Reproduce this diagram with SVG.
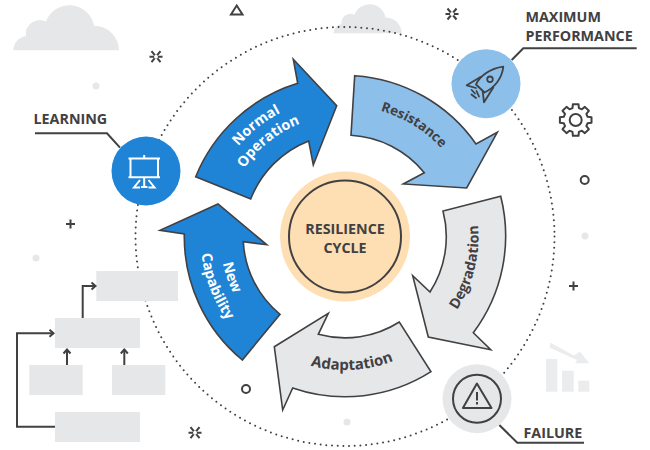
<svg xmlns="http://www.w3.org/2000/svg" width="650" height="450" viewBox="0 0 650 450">
<style>
text{font-family:"Open Sans","Liberation Sans",sans-serif;font-weight:700;fill:#414042}
.arrow{stroke:#414042;stroke-width:1.6;stroke-linejoin:miter}
.blue{fill:#1f83d6}.light{fill:#8cbfea}.grey{fill:#e6e7e8}
.lbl{font-size:14.300px}
.cap{font-size:14.300px}
.ln{fill:none;stroke:#414042;stroke-width:2}
.wl{fill:none;stroke:#fff;stroke-width:2}
.bg{fill:#e6e7e8}
.pale{fill:#ebeced}
.thin{fill:none;stroke:#414042;stroke-width:1.8;stroke-linejoin:round;stroke-linecap:round}
</style>
<defs>
<g id="ast"><path class="ln" d="M-6.500,0H6.500M-4.500,-5.500L4.500,5.500M4.500,-5.500L-4.500,5.500"/><circle r="2" fill="#fff"/></g>
<path id="cloud" d="M13.300,50.300A15,15 0 0 1 26,36A14,14 0 0 1 46,21.500A25,25 0 0 1 94,25.700A25,25 0 0 1 119,50.300Z"/>
<marker id="chev" markerWidth="8" markerHeight="10" refX="6" refY="5" orient="auto" markerUnits="userSpaceOnUse"><path d="M2,1.500L6,5L2,8.500" fill="none" stroke="#414042" stroke-width="2"/></marker>
<path id="t1" d="M219.700,174.600A140,140 0 0 1 312.400,100.900"/>
<path id="t2" d="M231.300,192.700A122,122 0 0 1 326.600,116.500"/>
<path id="t3" d="M348.400,106A131,131 0 0 1 460.100,174.500"/>
<path id="t4" d="M441,329.800A133.500,133.500 0 0 0 473.300,200.200"/>
<path id="t5" d="M285,355.800A133,133 0 0 0 417.800,348.300"/>
<path id="t6" d="M220,236.100A125,125 0 0 0 248.600,316.600"/>
<path id="t7" d="M200.800,226.900A144.500,144.500 0 0 0 244.600,340.900"/>
</defs>

<g id="decor">
<use href="#cloud" class="bg"/>
<use href="#cloud" class="bg" transform="translate(324.700,0.800) scale(.647)"/>
<path class="ln" d="M236.700,5.500L242.500,14.500H231Z"/>
<use href="#ast" x="156" y="56.700"/>
<use href="#ast" x="452" y="14"/>
<use href="#ast" x="195" y="432.700"/>
<circle cx="96" cy="86" r="3.500" class="bg"/>
<circle cx="36" cy="258" r="3.500" class="bg"/>
<circle cx="585" cy="236" r="3.500" class="bg"/>
<circle cx="347" cy="422" r="3.500" class="bg"/>
<circle cx="584.700" cy="180" r="4" class="ln"/>
<circle cx="246" cy="389" r="4" class="ln"/>
<path class="ln" d="M66,224H75M70.500,219.500V228.500M569,286H578M573.500,281.500V290.500"/>
<g transform="translate(575.700,120)"><path class="ln" stroke-linejoin="round" d="M-3.200,-11.900L-2.800,-15.800L2.800,-15.800L3.200,-11.900L6.150,-10.680L9.190,-13.150L13.150,-9.190L10.680,-6.150L11.900,-3.200L15.800,-2.800L15.800,2.800L11.900,3.200L10.680,6.150L13.150,9.190L9.190,13.150L6.150,10.680L3.200,11.900L2.800,15.800L-2.800,15.800L-3.200,11.900L-6.150,10.680L-9.190,13.150L-13.150,9.190L-10.680,6.150L-11.900,3.200L-15.800,2.800L-15.800,-2.800L-11.900,-3.200L-10.680,-6.150L-13.150,-9.190L-9.190,-13.150L-6.150,-10.680Z"/><circle r="6" class="ln"/></g>
<g id="chart" class="pale"><rect x="546" y="359" width="11.300" height="32.700"/><rect x="562" y="370.700" width="11.700" height="21"/><rect x="578.300" y="380.700" width="11" height="11"/><path d="M550.500,342.800L574,355.500L580,351.700L589.300,363.300H575L577,360L549.500,347.500Z"/></g>
</g>

<g id="ring"><circle cx="345" cy="236.500" r="209.500" fill="none" stroke="#414042" stroke-width="2" stroke-linecap="round" stroke-dasharray="0 5.700"/></g>

<g id="flowchart-boxes">
<rect id="box1" class="bg" x="96.300" y="271" width="81.700" height="30"/>
<rect id="box2" class="bg" x="55" y="318" width="85" height="30"/>
<rect id="box3" class="bg" x="29.300" y="365" width="53.400" height="30"/>
<rect id="box4" class="bg" x="112" y="365" width="53.300" height="30"/>
<rect id="box5" class="bg" x="55" y="412" width="85" height="30"/>
</g>
<g id="connectors">
<path class="ln" marker-end="url(#chev)" d="M55,426.700H17V333.300H53.500"/>
<path class="ln" marker-end="url(#chev)" d="M82.700,318V286H95.500"/>
<path class="ln" marker-end="url(#chev)" d="M67,365V349.500"/>
<path class="ln" marker-end="url(#chev)" d="M124.300,365V349.500"/>
<path class="ln" d="M511.700,60L523.300,48.300H636.700"/>
<path class="ln" d="M35,133.300H107L120,147.700"/>
<path class="ln" d="M499.300,425L517.300,442.700H584"/>
</g>

<g id="normal-operation">
<path class="arrow blue" d="M195.700,176.700A161,161 0 0 1 297.700,83.300L293.300,59.300L336.700,105.700L313.300,165L308.700,141A102,102 0 0 0 250.700,199Z"/>
<text class="lbl" style="fill:#fff"><textPath href="#t1" startOffset="50%" text-anchor="middle">Normal</textPath></text>
<text class="lbl" style="fill:#fff"><textPath href="#t2" startOffset="50%" text-anchor="middle">Operation</textPath></text>
</g>
<g id="resistance">
<path class="arrow light" d="M354.700,75.700A161,161 0 0 1 476,144L497.300,132.300L466.700,188L403.300,184L424.300,172.700A102,102 0 0 0 351,135.300Z"/>
<text class="lbl" style="font-size:13.500px"><textPath href="#t3" startOffset="50%" text-anchor="middle">Resistance</textPath></text>
</g>
<g id="degradation">
<path class="arrow grey" d="M500.700,196.300A161,161 0 0 1 473.300,332.700L490.700,349.700L428.300,337L412.700,275.700L430,292A102,102 0 0 0 443,211Z"/>
<text class="lbl"><textPath href="#t4" startOffset="50%" text-anchor="middle">Degradation</textPath></text>
</g>
<g id="adaptation">
<path class="arrow grey" d="M431,371.700A160,160 0 0 1 292.700,388L282.700,410L274.300,346.700L328.300,313.300L318.300,334.300A101,101 0 0 0 399.300,322Z"/>
<text class="lbl" style="font-size:15px"><textPath href="#t5" startOffset="50%" text-anchor="middle">Adaptation</textPath></text>
</g>
<g id="new-capability">
<path class="arrow blue" d="M242.300,360A160,160 0 0 1 184.300,234L160,230.300L218,204L266.700,244.700L243.300,241.700A101,101 0 0 0 280,314.300Z"/>
<text class="lbl" style="fill:#fff"><textPath href="#t6" startOffset="50%" text-anchor="middle">New</textPath></text>
<text class="lbl" style="fill:#fff"><textPath href="#t7" startOffset="50%" text-anchor="middle">Capability</textPath></text>
</g>

<g id="center">
<circle cx="345" cy="236.500" r="65" fill="#fedfb3"/>
<circle cx="345" cy="236.500" r="56" fill="none" stroke="#414042" stroke-width="2"/>
<text class="cap" x="345" y="234.300" text-anchor="middle">RESILIENCE</text>
<text class="cap" x="345" y="253.300" text-anchor="middle">CYCLE</text>
</g>

<g id="maximum-performance">
<circle cx="486" cy="83.700" r="34.500" fill="#8cbfea"/>
<path class="thin" d="M476,84.500C480,76 490,68.500 503.300,66.700C502,79 494,88 484.500,92.500Z"/>
<path class="thin" d="M480.500,77L466.700,85.300L476,88M493.300,87.500L484,102.300L482.700,91.500"/>
<circle cx="490" cy="79.300" r="2.800" class="thin"/>
<path class="thin" d="M471.700,90L475,93.500M471.500,94.500L476,98M476.500,91L479,96.500"/>
<text class="cap" x="525.500" y="22">MAXIMUM</text>
<text class="cap" x="525.500" y="41">PERFORMANCE</text>
</g>
<g id="learning">
<circle cx="146" cy="171" r="34.500" fill="#1f83d6"/>
<path class="wl" d="M128.500,158.500H160M130.500,158.500V177.300M158,158.500V177.300M128.500,177.300H160M144.200,155V158.500M144.200,177.300V187M141,187H147.500"/>
<path class="wl" d="M140,180L134,187.500H140M148.500,180L154.500,187.500H148.500"/>
<text class="cap" x="33.500" y="124">LEARNING</text>
</g>
<g id="failure">
<circle cx="477" cy="398.700" r="34.500" fill="#e6e7e8"/>
<circle cx="477" cy="398.700" r="24" class="ln"/>
<path class="ln" stroke-linejoin="round" d="M476.900,383.500L462.900,408H491.500Z"/>
<path class="ln" d="M477,392V400.500M477,402V404.500"/>
<text class="cap" x="523.500" y="437.700">FAILURE</text>
</g>
</svg>
